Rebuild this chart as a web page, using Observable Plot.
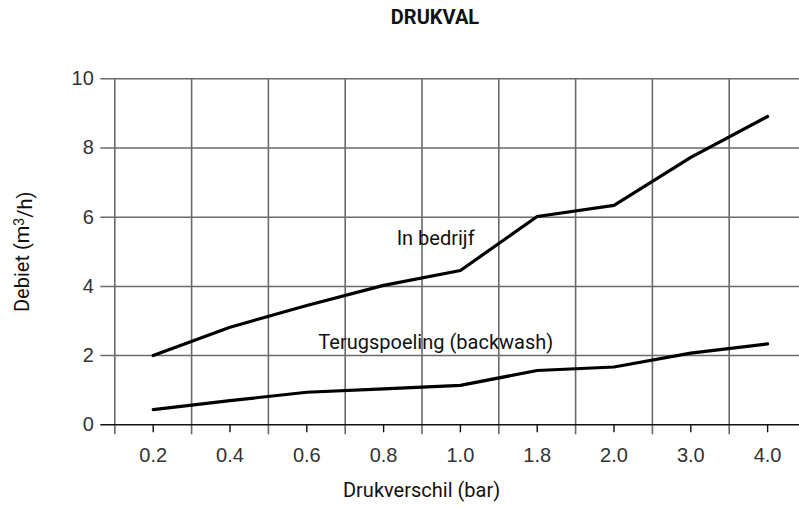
<!DOCTYPE html>
<html><head><meta charset="utf-8">
<script src="https://cdn.jsdelivr.net/npm/d3@7"></script>
<script src="https://cdn.jsdelivr.net/npm/@observablehq/plot@0.6"></script>
<style>
body{margin:0;background:#fff;}
#wrap{position:relative;width:799px;height:507px;overflow:hidden;}
#title{position:absolute;top:5px;left:435px;transform:translateX(-50%);font:bold 20px Roboto, sans-serif;color:#111;white-space:nowrap;}
svg{display:block;}
</style></head><body>
<div id="wrap"><div id="title">DRUKVAL</div></div>
<script>
const categories = ["0.2","0.4","0.6","0.8","1.0","1.8","2.0","3.0","4.0"];
const inBedrijf = [2.0, 2.82, 3.45, 4.03, 4.46, 6.02, 6.34, 7.73, 8.91];
const terugspoeling = [0.44, 0.70, 0.94, 1.04, 1.14, 1.57, 1.67, 2.07, 2.34];
const yTicks = [0, 2, 4, 6, 8, 10];
const seriesNames = ["In bedrijf", "Terugspoeling (backwash)"];
const labelX = [3.17, 2.15];      // label anchor in category-index units
const labelY = [5.38, 2.39];      // label anchor in m3/h
const xTitle = "Drukverschil (bar)";
const yTitleParts = ["Debiet (m", "3", "/h)"];

const idx = d3.range(categories.length);
const boundaries = d3.range(categories.length + 1).map(i => i - 0.5);
const rows = (vals, s) => vals.map((v, i) => ({i, v, s}));
const data = [...rows(inBedrijf, seriesNames[0]), ...rows(terugspoeling, seriesNames[1])];
const labels = seriesNames.map((t, k) => ({t, x: labelX[k], y: labelY[k]}));

const gray = "#6a6a6a";
const font = "Roboto, sans-serif";
const tickFont = "'Liberation Sans', Arial, sans-serif";

const chart = Plot.plot({
  width: 799, height: 507,
  marginLeft: 114.3, marginRight: 0, marginTop: 78.3, marginBottom: 82.7,
  style: {background: "#fff", overflow: "visible"},
  x: {type: "linear", domain: [-0.5, categories.length - 0.5], range: [114.3, 805.5]},
  y: {domain: [0, 10], range: [424.3, 78.3]},
  marks: [
    Plot.ruleY(yTicks.filter(d => d !== 0), {y: d => d, stroke: gray, strokeWidth: 1.5, insetLeft: -14}),
    Plot.ruleX(boundaries, {x: d => d, y1: 10, y2: 0, stroke: gray, strokeWidth: 1.6, insetBottom: -10}),
    Plot.ruleY([0], {y: d => d, stroke: "#111", strokeWidth: 1.6, insetLeft: -14}),
    Plot.axisX(idx, {tickSize: 8, tickPadding: 15, tickFormat: i => categories[i], stroke: "#111", strokeWidth: 1.4, fontSize: 20, fill: "#333", fontFamily: tickFont, label: null}),
    Plot.axisY(yTicks, {tickSize: 0, tickPadding: 21, fontSize: 20, fill: "#333", fontFamily: tickFont, label: null}),
    Plot.line(data, {x: "i", y: "v", z: "s", stroke: "#000", strokeWidth: 3.2, strokeLinejoin: "round"}),
    Plot.text(labels, {x: "x", y: "y", text: "t", textAnchor: "start", fontSize: 20, fontFamily: font, fill: "#111"}),
    Plot.text([xTitle], {frameAnchor: "bottom", textAnchor: "middle", dx: -35.6, dy: 72, fontSize: 20, fontFamily: font, fill: "#111"}),
    Plot.text([yTitleParts.join("")], {frameAnchor: "left", textAnchor: "middle", rotate: -90, dx: -92, fontSize: 20, fontFamily: font, fill: "#111", className: "ytitle"})
  ]
});
// superscript in the y-axis title
d3.select(chart).selectAll(".ytitle text").each(function() {
  const t = d3.select(this);
  t.text(null);
  t.append("tspan").text(yTitleParts[0]);
  t.append("tspan").attr("dy", "-0.4em").attr("font-size", "14px").text(yTitleParts[1]);
  t.append("tspan").attr("dy", "0.4em").text(yTitleParts[2]);
});
document.getElementById("wrap").appendChild(chart);
</script>
</body></html>
